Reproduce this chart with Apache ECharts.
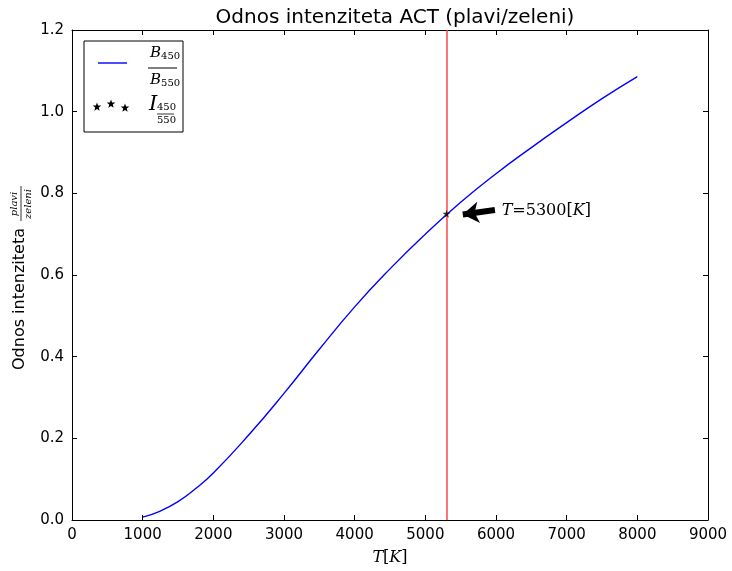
<!DOCTYPE html>
<html><head><meta charset="utf-8">
<script src="https://cdn.jsdelivr.net/npm/echarts@6/dist/echarts.min.js"></script>
<style>html,body{margin:0;padding:0;background:#fff}#c{width:732px;height:571px}</style>
</head><body><div id="c"></div>
<script>
const temperatures = [1000,1250,1500,1750,2000,2500,3000,3500,4000,4500,5000,5500,6000,6500,7000,7500,8000];
const ratios = [0.007,0.022,0.045,0.077,0.115,0.208,0.310,0.418,0.522,0.615,0.700,0.778,0.848,0.912,0.973,1.032,1.086];
const markerTemperature = [5300];
const markerRatio = [0.75];
const arrowTail = [5985, 0.759];
const arrowHead = [5530, 0.748];
const annotationPos = [6080, 0.757];
const titleText = 'Odnos intenziteta ACT (plavi/zeleni)';

const STAR = 'path://M50,0 L61,35 L98,35 L68,57 L79,91 L50,70 L21,91 L32,57 L2,35 L39,35 Z';
const SANS = 'DejaVu Sans';
const SERIF = 'DejaVu Serif';

function starPoints(cx, cy, r) {
  const pts = [];
  for (let k = 0; k < 10; k++) {
    const rr = k % 2 === 0 ? r : r * 0.42;
    const a = -Math.PI / 2 + k * Math.PI / 5;
    pts.push([cx + rr * Math.cos(a), cy + rr * Math.sin(a)]);
  }
  return pts;
}

const chart = echarts.init(document.getElementById('c'), null, {renderer:'canvas'});

const axisCommon = {
  axisLine:{show:true, onZero:false, lineStyle:{color:'#000', width:1}},
  axisTick:{show:true, inside:true, length:5, lineStyle:{color:'#000', width:1}},
  splitLine:{show:false}
};

const option = {
  backgroundColor:'#fff',
  animation:false,
  title:{text:titleText, left:390, textAlign:'center', top:3,
    textStyle:{fontFamily:SANS, fontSize:20, fontWeight:'normal', color:'#000'}},
  grid:{left:72, right:24, top:30, bottom:48},
  xAxis:[
    Object.assign({type:'value', min:0, max:9000, interval:1000, position:'bottom',
      axisLabel:{fontFamily:SANS, fontSize:15, color:'#000', margin:8, formatter:v=>String(v)},
      name:'{i|T}{r|[}{i|K}{r|]}', nameLocation:'middle', nameGap:30,
      nameTextStyle:{rich:{i:{fontFamily:SERIF, fontStyle:'italic', fontSize:16, color:'#000'}, r:{fontFamily:SERIF, fontSize:16, color:'#000'}}}
    }, axisCommon),
    Object.assign({type:'value', min:0, max:9000, interval:1000, position:'top', axisLabel:{show:false}}, axisCommon)
  ],
  yAxis:[
    Object.assign({type:'value', min:0, max:1.2, interval:0.2, position:'left',
      axisLabel:{fontFamily:SANS, fontSize:15, color:'#000', margin:8, formatter:v=>v.toFixed(1)}}, axisCommon),
    Object.assign({type:'value', min:0, max:1.2, interval:0.2, position:'right', axisLabel:{show:false}}, axisCommon)
  ],
  series:[
    {type:'line', name:'B', data:temperatures.map((t,i)=>[t,ratios[i]]), smooth:0.5, showSymbol:false,
      lineStyle:{color:'#0000ff', width:1.4}, z:3,
      markLine:{silent:true, symbol:'none', label:{show:false},
        lineStyle:{color:'#ff4040', width:1.6, type:'solid', opacity:0.9},
        data:[{xAxis:markerTemperature[0]}]}},
    {type:'scatter', name:'I', data:markerTemperature.map((t,i)=>[t,markerRatio[i]]), symbol:STAR, symbolSize:8,
      itemStyle:{color:'#000'}, z:5},
    {type:'line', name:'ann', data:[], z:6,
      markLine:{silent:true, symbol:['none','arrow'], symbolSize:16, label:{show:false},
        lineStyle:{color:'#000', width:6, type:'solid'},
        itemStyle:{color:'#000'},
        data:[[{coord:arrowTail},{coord:arrowHead}]]},
      markPoint:{silent:true, symbol:'circle', symbolSize:0,
        data:[{coord:annotationPos}],
        label:{show:true, position:'right', distance:0,
          formatter:'{i|T}{r|=5300[}{i|K}{r|]}',
          rich:{i:{fontFamily:SERIF, fontStyle:'italic', fontSize:16, color:'#000'}, r:{fontFamily:SERIF, fontSize:16, color:'#000'}}}}}
  ],
  graphic:[
    {type:'rect', shape:{x:84, y:41, width:99, height:91}, style:{fill:'#fff', stroke:'#000', lineWidth:1}, z:10},
    {type:'line', shape:{x1:98, y1:63, x2:127, y2:63}, style:{stroke:'#0000ff', lineWidth:1.4}, z:11},
    {type:'text', x:150, y:61, style:{text:'{i|B}{s|450}', rich:{i:{fontFamily:SERIF, fontStyle:'italic', fontSize:15, color:'#000'}, s:{fontFamily:SERIF, fontSize:10, color:'#000', padding:[6,0,0,0]}}, verticalAlign:'bottom'}, z:11},
    {type:'line', shape:{x1:148, y1:68, x2:177, y2:68}, style:{stroke:'#000', lineWidth:1}, z:11},
    {type:'text', x:150, y:88, style:{text:'{i|B}{s|550}', rich:{i:{fontFamily:SERIF, fontStyle:'italic', fontSize:15, color:'#000'}, s:{fontFamily:SERIF, fontSize:10, color:'#000', padding:[6,0,0,0]}}, verticalAlign:'bottom'}, z:11},
    {type:'polygon', shape:{points:starPoints(97, 107, 4.5)}, style:{fill:'#000'}, z:11},
    {type:'polygon', shape:{points:starPoints(111, 104, 4.5)}, style:{fill:'#000'}, z:11},
    {type:'polygon', shape:{points:starPoints(125, 108, 4.5)}, style:{fill:'#000'}, z:11},
    {type:'text', x:149, y:94, style:{text:'I', fontFamily:SERIF, fontStyle:'italic', fontSize:21, fill:'#000'}, z:11},
    {type:'text', x:157, y:102, style:{text:'450', fontFamily:SERIF, fontSize:10, fill:'#000'}, z:11},
    {type:'line', shape:{x1:157, y1:114, x2:174, y2:114}, style:{stroke:'#000', lineWidth:0.8}, z:11},
    {type:'text', x:157, y:115, style:{text:'550', fontFamily:SERIF, fontSize:10, fill:'#000'}, z:11},
    {type:'group', x:20, y:370, rotation:Math.PI/2, z:11, children:[
      {type:'text', x:0, y:0, style:{text:'Odnos intenziteta', fontFamily:SANS, fontSize:16, fill:'#000', verticalAlign:'middle', align:'left'}},
      {type:'text', x:166, y:-1, style:{text:'plavi', fontFamily:SERIF, fontStyle:'italic', fontSize:10, fill:'#000', verticalAlign:'bottom', align:'center'}},
      {type:'line', shape:{x1:149, y1:1, x2:184, y2:1}, style:{stroke:'#000', lineWidth:0.8}},
      {type:'text', x:166, y:3, style:{text:'zeleni', fontFamily:SERIF, fontStyle:'italic', fontSize:10, fill:'#000', verticalAlign:'top', align:'center'}}
    ]}
  ]
};
chart.setOption(option);
</script>
</body></html>
